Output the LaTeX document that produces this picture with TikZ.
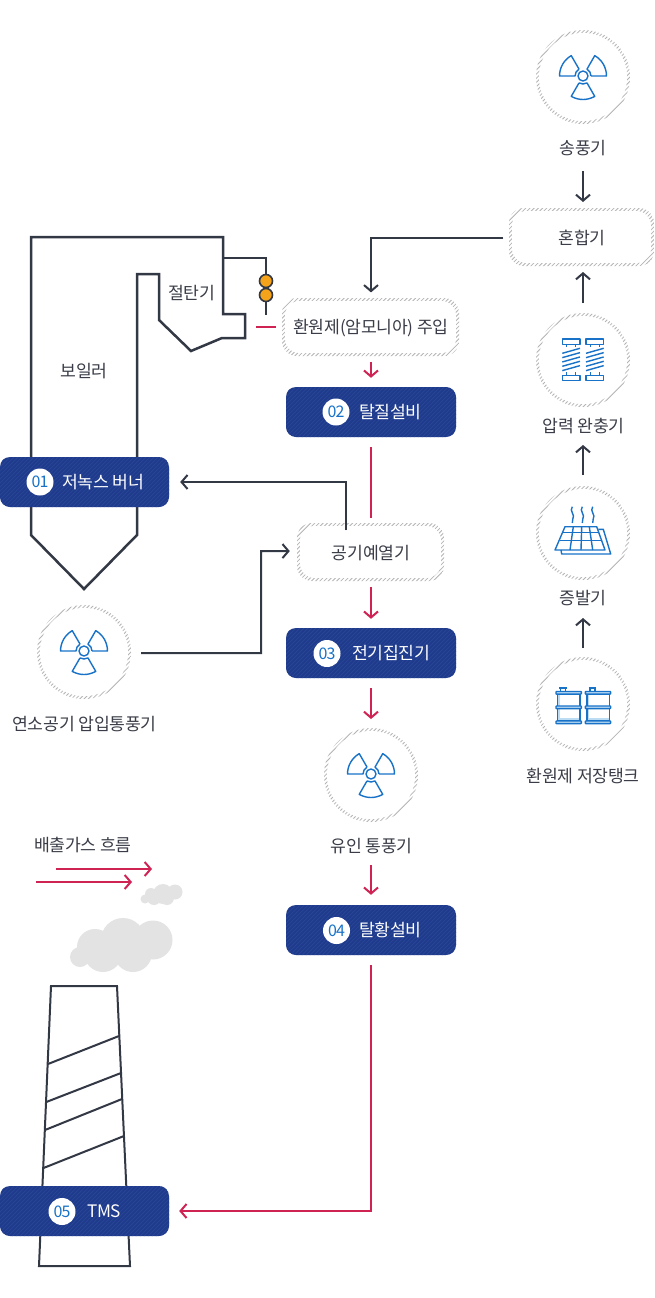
\documentclass[tikz,border=0pt]{standalone}
\usepackage{fontspec}
\setmainfont{Noto Sans CJK KR}[LetterSpace=-1.5]
\newfontfamily\numfont{Noto Sans CJK KR}[LetterSpace=-5]
\usetikzlibrary{arrows.meta,calc}
\definecolor{ink}{HTML}{333845}
\definecolor{txt}{HTML}{3A3D47}
\definecolor{pinkc}{HTML}{CF2353}
\definecolor{navy}{HTML}{1F3A8C}
\definecolor{navyl}{HTML}{2A4796}
\definecolor{iconb}{HTML}{1872C8}
\definecolor{iconl}{HTML}{BCDCF3}
\definecolor{hatch}{HTML}{B4B4B4}
\definecolor{smoke}{HTML}{E3E3E3}
\definecolor{amber}{HTML}{F5A31A}
\tikzset{
  lbl/.style={font=\fontsize{17.2}{20}\selectfont,text=txt,inner sep=0pt,yshift=-.6pt},
  dk/.style={draw=ink,line width=2pt},
  dkarrow/.style={dk,-{Straight Barb[length=6pt,width=14pt,line width=2pt]}},
  pk/.style={draw=pinkc,line width=2pt},
  pkarrow/.style={pk,-{Straight Barb[length=6pt,width=14pt,line width=2pt]}},
  plainbox/.style={lbl,minimum height=56pt,inner sep=0pt},
  btn/.style={rounded corners=10pt,minimum height=50pt,fill=navy,inner sep=0pt,
    path picture={\foreach \k in {-60,-56,...,200}{\draw[navyl,line width=.7pt]
      ([xshift=\k pt]path picture bounding box.south west) -- ++(60pt,60pt);}}},
  btntxt/.style={font=\fontsize{17.2}{20}\selectfont,text=white,inner sep=0pt,yshift=-.4pt},
  badge/.style={circle,fill=white,minimum size=27pt,inner sep=0pt,text=iconb,font=\fontsize{16}{18}\numfont},
  ic/.style={draw=iconb,line width=1.4pt,line join=round},
}
% hatched ring round a circle
\newcommand{\hatchcircle}[3]{% x y name
  \coordinate (#3) at (#1,#2);
  \begin{scope}[even odd rule]
    \clip (#1,#2) circle (47) (#1,#2) circle (44.2);
    \foreach \k in {-100,-95.8,...,100}{\draw[hatch,line width=.8pt] (#1+\k-50,#2-50) -- ++(100,100);}
  \end{scope}}
% hatched ring round a rounded box: x0 y0 x1 y1
\newcommand{\hatchbox}[4]{%
  \begin{scope}[even odd rule,rounded corners=15pt]
    \clip (#1,#2) rectangle (#3,#4) (#1+2.8,#2-2.8) rectangle (#3-2.8,#4+2.8);
    \foreach \k in {-240,-235.8,...,240}{\draw[hatch,line width=.8pt] (#1*.5+#3*.5+\k-60,#2*.5+#4*.5-60) -- ++(120,120);}
  \end{scope}}
\newcommand{\radicon}[2]{%
  \begin{scope}[shift={(#1,#2)}]
    \draw[ic] (0,0) circle (5);
    \foreach \a in {0,120,240}{
      \draw[ic] (\a:8) -- (\a:23.5) arc[start angle=\a,end angle=\a+60,radius=23.5] -- (\a+60:8)
        arc[start angle=\a+60,end angle=\a,radius=8];}
  \end{scope}}
\newcommand{\springicon}[2]{%
  \begin{scope}[shift={(#1,#2)}]
    \draw[ic] (0,0) rectangle (17.7,-5.3);
    \draw[ic] (4.4,-5.3) -- (4.4,-8.3) (13.4,-5.3) -- (13.4,-8.3);
    \foreach \k in {0,1,2,3,4}{\draw[ic] (0,-14.3-\k*4.33) -- (17.7,-9.3-\k*4.33);}
    \draw[ic] (0,-36.7) rectangle (17.7,-41.7);
    \draw[ic] (4.4,-36.7) -- (4.4,-33.3) (13.4,-36.7) -- (13.4,-33.3);
  \end{scope}}
\newcommand{\barrelicon}[2]{%
  \begin{scope}[shift={(#1,#2)}]
    \fill[iconl] (1.5,-6) rectangle (4,-33);
    \fill[iconl] (1.5,-30) rectangle (24,-33);
    \draw[ic] (1.7,-6) rectangle (24,-33);
    \draw[ic] (3.3,0) -- (10.7,0) (4.5,0) -- (4.5,-3.5) (9.5,0) -- (9.5,-3.5);
    \foreach \y in {-3.5,-18,-33}{\draw[ic,fill=iconl,rounded corners=.5pt] (0,\y) rectangle (25.3,\y-2.6);}
  \end{scope}}
\begin{document}
\begin{tikzpicture}[x=1pt,y=1pt]
\useasboundingbox (0,0) rectangle (654,-1298);
\fill[white] (0,0) rectangle (654,-1298);

% hatched rings
\hatchcircle{583}{-77}{c1}
\hatchcircle{583}{-360}{c2}
\hatchcircle{583}{-533}{c3}
\hatchcircle{583}{-704}{c4}
\hatchcircle{84}{-652}{c5}
\hatchcircle{371}{-775}{c6}
\hatchbox{509}{-208}{654}{-266}
\hatchbox{282}{-298}{459}{-356}
\hatchbox{297}{-523}{444}{-581}

% icons
\radicon{583}{-76}
\radicon{84}{-651}
\radicon{371}{-774}
\springicon{562.3}{-339}
\springicon{586}{-339}
\barrelicon{556}{-688}
\barrelicon{585.3}{-688}
% solar panel
\foreach \x in {572.3,582.3,592.7}{
  \draw[ic] (\x,-506.7) .. controls (\x-3.5,-511) and (\x+3.5,-515) .. (\x+.5,-519) -- (\x,-523);
}
\draw[ic] (565,-526.7) -- (596.7,-526.7) -- (605,-550) -- (555,-550) -- cycle;
\draw[ic] (598.3,-529.3) -- (603.3,-529.3) -- (610.7,-554) -- (561.7,-554) -- (561,-550);
\draw[ic] (563,-532.3) -- (598.6,-532.3);
\draw[ic] (560,-540.7) -- (601.7,-540.7);
\draw[ic] (573.3,-526.7) -- (570,-550);
\draw[ic] (581.7,-526.7) -- (581,-550);
\draw[ic] (589.3,-526.7) -- (592.7,-550);

% boiler
\draw[dk,line width=2.5pt,line join=miter] (31,-457) -- (31,-237) -- (223,-237) -- (223,-314) -- (245,-314) -- (245,-338)
  -- (222,-338) -- (191,-351) -- (159,-320) -- (159,-274) -- (137,-274) -- (137,-457);
\draw[dk,line width=2.5pt,line join=miter] (31,-507) -- (31,-535) -- (84,-589) -- (137,-535) -- (137,-507);
% chimney
\draw[dk,line join=miter] (39,-1266) -- (51,-986) -- (117,-986) -- (130,-1266) -- cycle;
\draw[dk] (48,-1064) -- (119,-1036);
\draw[dk] (46.3,-1102) -- (121,-1073);
\draw[dk] (45,-1130) -- (122,-1099);
\draw[dk] (43.5,-1168) -- (124,-1136);

% pipes
\coordinate (pipeA) at (223,-258);
\coordinate (pipeB) at (266,-315);
\draw[dk] (pipeA) -| (pipeB);
\foreach \y in {-281,-295}{\draw[ink,fill=amber,line width=1.6pt] (266,\y) circle (6.5);}
\coordinate (dashA) at (256,-327);
\coordinate (dashB) at (276,-327);
\draw[pk] (dashA) -- (dashB);

% clouds
\fill[smoke] (123,-940) circle (22) (153,-940) circle (19.5) (95,-947) circle (18)
  (103,-953) circle (19) (133,-953) circle (19) (80,-957) circle (10);
\fill[smoke] (163,-894) circle (10) (175,-892) circle (7.5) (151,-894) circle (6)
  (154,-898) circle (7) (167,-898) circle (7) (145,-899) circle (4.5);

% text nodes
\node[lbl] (t1) at (583,-147.5) {송풍기};
\node[plainbox,minimum width=145pt] (mix) at (582,-237) {혼합기};
\node[lbl] (t2) at (583.5,-425.5) {압력 완충기};
\node[lbl] (t3) at (583,-597.5) {증발기};
\node[lbl] (t4) at (583,-775) {환원제 저장탱크};
\node[lbl] (t5) at (371.5,-845.5) {유인 통풍기};
\node[lbl] (t6) at (84.5,-723.5) {연소공기 압입통풍기};
\node[lbl] (boil) at (84,-370.5) {보일러};
\node[lbl] (eco) at (191.5,-292.5) {절탄기};
\node[lbl] (leg) at (83,-844) {배출가스 흐름};
\node[plainbox,minimum width=177pt] (inj) at (371,-327) {환원제(암모니아) 주입};
\node[plainbox,minimum width=147pt] (pre) at (371,-552) {공기예열기};

% buttons
\node[btn,minimum width=170pt] (b2) at (371,-412) {};
\node[btn,minimum width=170pt] (b3) at (371,-653) {};
\node[btn,minimum width=170pt] (b4) at (371,-930) {};
\node[btn,minimum width=169pt] (b1) at (84.5,-482) {};
\node[btn,minimum width=169pt] (b5) at (84.5,-1211) {};
\node[badge] (n2) at (336,-412) {02};
\node[badge] (n3) at (327,-653.5) {03};
\node[badge] (n4) at (336.5,-930.5) {04};
\node[badge] (n1) at (40,-482) {01};
\node[badge] (n5) at (62,-1211.5) {05};
\node[btntxt,anchor=west] (l2) at (359,-411.5) {탈질설비};
\node[btntxt,anchor=west] (l3) at (352,-652.5) {전기집진기};
\node[btntxt,anchor=west] (l4) at (359,-929.5) {탈황설비};
\node[btntxt,anchor=west] (l1) at (62,-481.5) {저녹스 버너};
\node[btntxt,anchor=west] (l5) at (87,-1210.5) {TMS};

% dark connectors
\coordinate (s1) at (583,-171);
\draw[dkarrow] (s1) -- (583,-202);
\coordinate (s2) at ($(mix.west)+(-6,0)$);
\draw[dkarrow] (s2) -| ($(inj.north)+(0,7)$);
\coordinate (s3) at ($(c2)+(0,57)$);
\draw[dkarrow] (s3) -- (583,-272);
\coordinate (s4) at ($(c3)+(0,58)$);
\draw[dkarrow] (s4) -- (583,-445);
\coordinate (s5) at ($(c4)+(0,56)$);
\draw[dkarrow] (s5) -- (583,-618);
\coordinate (s6) at ($(pre.north)+(-25,-6)$);
\draw[dkarrow] (s6) |- ($(b1.east)+(11,0)$);
\coordinate (s7) at ($(c5)+(57,-1)$);
\coordinate (e7) at ($(pre.west)+(-7.5,1.5)$);
\draw[dkarrow] (s7) -| (261,-551) -- (e7);
% pink connectors
\coordinate (p1) at ($(inj.south)+(0,-6)$);
\draw[pkarrow] (p1) -- ($(b2.north)+(0,9)$);
\coordinate (p2) at ($(b2.south)+(0,-10)$);
\draw[pk] (p2) -- ($(pre.north)+(0,6)$);
\coordinate (p3) at ($(pre.south)+(0,-6)$);
\draw[pkarrow] (p3) -- ($(b3.north)+(0,9)$);
\coordinate (p4) at ($(b3.south)+(0,-10)$);
\draw[pkarrow] (p4) -- ($(c6)+(0,56)$);
\coordinate (p5) at ($(t5.south)+(-.5,-11)$);
\draw[pkarrow] (p5) -- ($(b4.north)+(0,10)$);
\coordinate (p6) at ($(b4.south)+(0,-10)$);
\draw[pkarrow] (p6) |- ($(b5.east)+(10,0)$);
\coordinate (fa) at (56,-869);
\coordinate (fb) at (152,-869);
\coordinate (ga) at (36,-882);
\coordinate (gb) at (132,-882);
\draw[pkarrow] (fa) -- (fb);
\draw[pkarrow] (ga) -- (gb);
\end{tikzpicture}
\end{document}
